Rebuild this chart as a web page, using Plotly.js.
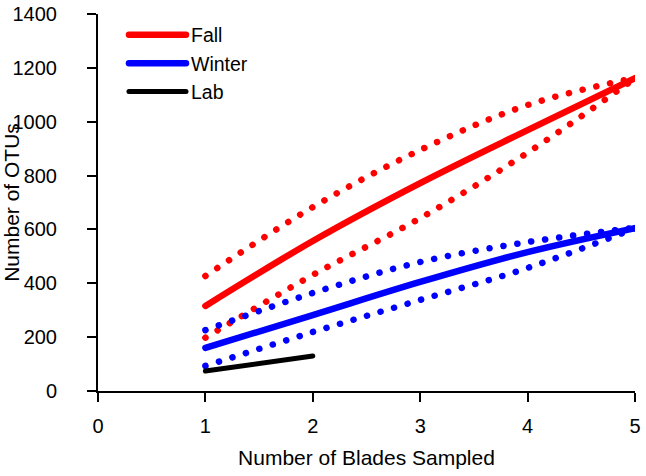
<!DOCTYPE html>
<html>
<head>
<meta charset="utf-8">
<script src="https://cdn.plot.ly/plotly-3.0.1.min.js"></script>
<style>
  html, body { margin: 0; padding: 0; background: #fff; }
  #chart { width: 646px; height: 476px; }
  .js-line { stroke-linecap: round !important; stroke-linejoin: round !important; }
  .cartesianlayer .plot { clip-path: none !important; }
  .yaxislayer-above g.ytick { transform: translateX(-8px); }
</style>
</head>
<body>
<div id="chart"></div>
<script>
// Number of blades sampled
const blades = [1, 2, 3, 4, 5];
const bladesLab = [1, 2];

// Fall: mean curve and dotted confidence bounds
const fallMean  = [316, 557, 772, 969, 1162];
const fallUpper = [427, 683, 895, 1062, 1163];
const fallLower = [198, 431, 642, 885, 1161];

// Winter: mean curve and dotted confidence bounds
const winterMean  = [160, 282, 405, 516, 605];
const winterUpper = [226, 364, 479, 553, 606];
const winterLower = [93, 219, 338, 457, 604];

// Lab
const labMean = [74, 130];

const xTicks = [0, 1, 2, 3, 4, 5];
const yTicks = [0, 200, 400, 600, 800, 1000, 1200, 1400];

const RED = '#FF0000', BLUE = '#0000FF', BLACK = '#000000';
const dotted = '0.1px,14px';

const traces = [
  {x: blades, y: fallUpper, mode: 'lines', line: {color: RED, width: 6.5, dash: dotted, shape: 'spline'}, showlegend: false, hoverinfo: 'skip'},
  {x: blades, y: fallLower, mode: 'lines', line: {color: RED, width: 6.5, dash: dotted, shape: 'spline'}, showlegend: false, hoverinfo: 'skip'},
  {x: blades, y: winterUpper, mode: 'lines', line: {color: BLUE, width: 6.5, dash: dotted, shape: 'spline'}, showlegend: false, hoverinfo: 'skip'},
  {x: blades, y: winterLower, mode: 'lines', line: {color: BLUE, width: 6.5, dash: dotted, shape: 'spline'}, showlegend: false, hoverinfo: 'skip'},
  {x: blades, y: fallMean, name: 'Fall', mode: 'lines', line: {color: RED, width: 6.5, shape: 'spline'}},
  {x: blades, y: winterMean, name: 'Winter', mode: 'lines', line: {color: BLUE, width: 6.5, shape: 'spline'}},
  {x: bladesLab, y: labMean, name: 'Lab', mode: 'lines', line: {color: BLACK, width: 5, shape: 'spline'}}
];

const font = {family: 'Arial, "Liberation Sans", sans-serif', color: '#000'};

const layout = {
  width: 646, height: 476,
  margin: {l: 98, r: 11, t: 14, b: 85},
  paper_bgcolor: '#ffffff', plot_bgcolor: '#ffffff',
  font: Object.assign({size: 20}, font),
  showlegend: true,
  legend: {
    x: 0.0484, y: 0.9956, xanchor: 'left', yanchor: 'top',
    bgcolor: 'rgba(0,0,0,0)', borderwidth: 0,
    font: Object.assign({size: 19.5}, font),
    itemwidth: 57, tracegroupgap: 0
  },
  xaxis: {
    range: [0, 5], tickvals: xTicks, ticktext: xTicks.map(String),
    showline: true, linecolor: '#000', linewidth: 2,
    ticks: 'outside', ticklen: 9, tickwidth: 2, tickcolor: '#000',
    showgrid: false, zeroline: false, ticklabelstandoff: 7,
    tickfont: Object.assign({size: 20}, font),
    title: {text: 'Number of Blades Sampled', font: Object.assign({size: 21}, font), standoff: 14},
    automargin: false, fixedrange: true
  },
  yaxis: {
    range: [0, 1400], tickvals: yTicks, ticktext: yTicks.map(String),
    showline: true, linecolor: '#000', linewidth: 2,
    ticks: 'outside', ticklen: 9, tickwidth: 2, tickcolor: '#000',
    showgrid: false, zeroline: false, ticklabelstandoff: 18,
    tickfont: Object.assign({size: 20}, font),
    title: {text: 'Number of OTUs', font: Object.assign({size: 21}, font), standoff: 0},
    automargin: false, fixedrange: true
  }
};

Plotly.newPlot('chart', traces, layout, {displayModeBar: false, staticPlot: true});
</script>
</body>
</html>
